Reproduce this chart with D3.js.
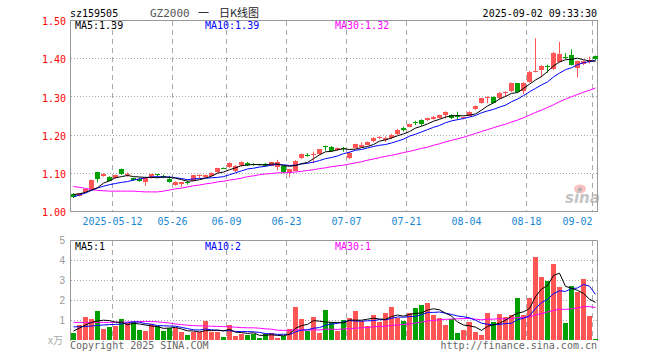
<!DOCTYPE html>
<html>
<head>
<meta charset="utf-8">
<script src="https://cdn.jsdelivr.net/npm/d3@7"></script>
<style>
  body { margin: 0; background: #fff; }
  svg text { font-family: "DejaVu Sans Mono", "Liberation Mono", monospace; font-size: 10px; }
</style>
</head>
<body>
<svg id="chart" width="660" height="360"></svg>
<script>
// trading days shown on the chart
const dates = [
  '2025-04-28','2025-04-29','2025-04-30','2025-05-06','2025-05-07','2025-05-08','2025-05-09',
  '2025-05-12','2025-05-13','2025-05-14','2025-05-15','2025-05-16',
  '2025-05-19','2025-05-20','2025-05-21','2025-05-22','2025-05-23',
  '2025-05-26','2025-05-27','2025-05-28','2025-05-29','2025-05-30',
  '2025-06-03','2025-06-04','2025-06-05','2025-06-06',
  '2025-06-09','2025-06-10','2025-06-11','2025-06-12','2025-06-13',
  '2025-06-16','2025-06-17','2025-06-18','2025-06-19','2025-06-20',
  '2025-06-23','2025-06-24','2025-06-25','2025-06-26','2025-06-27',
  '2025-06-30','2025-07-01','2025-07-02','2025-07-03','2025-07-04',
  '2025-07-07','2025-07-08','2025-07-09','2025-07-10','2025-07-11',
  '2025-07-14','2025-07-15','2025-07-16','2025-07-17','2025-07-18',
  '2025-07-21','2025-07-22','2025-07-23','2025-07-24','2025-07-25',
  '2025-07-28','2025-07-29','2025-07-30','2025-07-31','2025-08-01',
  '2025-08-04','2025-08-05','2025-08-06','2025-08-07','2025-08-08',
  '2025-08-11','2025-08-12','2025-08-13','2025-08-14','2025-08-15',
  '2025-08-18','2025-08-19','2025-08-20','2025-08-21','2025-08-22',
  '2025-08-25','2025-08-26','2025-08-27','2025-08-28','2025-08-29',
  '2025-09-01','2025-09-02'
];
const tickDates = ['2025-05-12','2025-05-26','2025-06-09','2025-06-23','2025-07-07','2025-07-21','2025-08-04','2025-08-18','2025-09-02'];
const tickLabels = ['2025-05-12','05-26','06-09','06-23','07-07','07-21','08-04','08-18','09-02'];
const priceTicks = [1.00, 1.10, 1.20, 1.30, 1.40, 1.50];
const volTicks = [1, 2, 3, 4, 5];

// daily OHLC
const open = [
  1.045,1.040,1.051,1.057,1.101,1.092,1.090,1.086,1.110,1.094,
  1.086,1.085,1.077,1.086,1.096,1.092,1.085,1.068,1.071,1.077,
  1.079,1.092,1.090,1.092,1.101,1.113,1.114,1.104,1.120,1.126,
  1.123,1.123,1.124,1.118,1.116,1.118,1.100,1.106,1.138,1.147,
  1.146,1.149,1.170,1.168,1.160,1.165,1.138,1.166,1.168,1.173,
  1.184,1.191,1.186,1.190,1.201,1.216,1.220,1.233,1.238,1.237,
  1.241,1.244,1.251,1.252,1.250,1.243,1.249,1.266,1.282,1.297,
  1.299,1.295,1.310,1.313,1.334,1.313,1.338,1.365,1.369,1.380,
  1.371,1.391,1.404,1.408,1.374,1.386,1.390,1.406
];
const high = [
  1.047,1.047,1.058,1.082,1.103,1.099,1.091,1.095,1.111,1.101,
  1.087,1.087,1.088,1.097,1.097,1.095,1.092,1.078,1.076,1.079,
  1.095,1.096,1.095,1.101,1.113,1.114,1.127,1.120,1.130,1.128,
  1.125,1.124,1.126,1.128,1.134,1.119,1.110,1.133,1.150,1.151,
  1.155,1.162,1.171,1.170,1.166,1.168,1.155,1.176,1.180,1.182,
  1.193,1.196,1.195,1.202,1.215,1.221,1.228,1.236,1.240,1.244,
  1.249,1.252,1.261,1.253,1.260,1.246,1.261,1.276,1.296,1.300,
  1.300,1.311,1.313,1.336,1.335,1.337,1.367,1.452,1.382,1.383,
  1.416,1.443,1.413,1.423,1.394,1.394,1.404,1.407
];
const low = [
  1.034,1.038,1.049,1.056,1.075,1.090,1.078,1.085,1.094,1.090,
  1.079,1.076,1.066,1.085,1.087,1.086,1.074,1.066,1.063,1.069,
  1.078,1.086,1.087,1.091,1.099,1.110,1.112,1.102,1.116,1.118,
  1.118,1.119,1.117,1.117,1.106,1.099,1.088,1.104,1.136,1.142,
  1.125,1.147,1.158,1.156,1.157,1.155,1.136,1.164,1.166,1.172,
  1.180,1.189,1.181,1.188,1.199,1.208,1.219,1.225,1.223,1.235,
  1.239,1.242,1.242,1.241,1.240,1.240,1.248,1.265,1.281,1.282,
  1.282,1.293,1.300,1.311,1.310,1.306,1.336,1.363,1.350,1.362,
  1.369,1.389,1.397,1.381,1.350,1.382,1.386,1.395
];
const close = [
  1.036,1.046,1.057,1.081,1.084,1.096,1.079,1.094,1.096,1.098,
  1.081,1.078,1.086,1.096,1.094,1.090,1.075,1.077,1.075,1.072,
  1.094,1.094,1.094,1.100,1.112,1.111,1.125,1.118,1.127,1.121,
  1.121,1.120,1.119,1.127,1.127,1.101,1.109,1.132,1.149,1.145,
  1.150,1.161,1.168,1.158,1.164,1.162,1.153,1.175,1.174,1.180,
  1.190,1.194,1.190,1.200,1.212,1.213,1.227,1.231,1.228,1.243,
  1.247,1.251,1.260,1.243,1.247,1.245,1.260,1.275,1.295,1.299,
  1.284,1.310,1.312,1.334,1.312,1.336,1.365,1.367,1.380,1.376,
  1.414,1.411,1.401,1.383,1.393,1.393,1.395,1.398
];

// price moving averages as plotted
const ma5 = [
  1.043,1.045,1.049,1.055,1.061,1.073,1.079,1.087,1.090,1.093,
  1.090,1.089,1.088,1.088,1.087,1.089,1.088,1.086,1.082,1.078,
  1.079,1.082,1.086,1.091,1.099,1.102,1.108,1.113,1.119,1.120,
  1.122,1.121,1.121,1.123,1.123,1.119,1.117,1.119,1.124,1.127,
  1.137,1.147,1.155,1.156,1.160,1.163,1.161,1.162,1.166,1.169,
  1.174,1.183,1.186,1.191,1.197,1.202,1.208,1.217,1.222,1.228,
  1.235,1.240,1.246,1.249,1.250,1.249,1.251,1.254,1.264,1.275,
  1.283,1.293,1.300,1.308,1.310,1.321,1.332,1.343,1.352,1.365,
  1.380,1.390,1.396,1.397,1.400,1.396,1.393,1.392
];
const ma10 = [
  1.037,1.042,1.047,1.054,1.060,1.065,1.069,1.072,1.075,1.077,
  1.081,1.084,1.087,1.089,1.090,1.089,1.089,1.087,1.085,1.082,
  1.084,1.085,1.086,1.087,1.088,1.090,1.095,1.100,1.105,1.110,
  1.112,1.115,1.117,1.120,1.122,1.121,1.119,1.120,1.123,1.125,
  1.128,1.132,1.137,1.140,1.144,1.150,1.154,1.159,1.161,1.165,
  1.169,1.172,1.174,1.178,1.183,1.188,1.196,1.201,1.207,1.213,
  1.219,1.224,1.231,1.236,1.239,1.242,1.246,1.250,1.257,1.262,
  1.266,1.272,1.277,1.286,1.293,1.302,1.312,1.321,1.330,1.338,
  1.351,1.361,1.370,1.375,1.383,1.388,1.391,1.394
];
const ma30 = [
  1.064,1.062,1.059,1.056,1.054,1.053,1.052,1.052,1.052,1.052,
  1.052,1.051,1.050,1.050,1.050,1.052,1.055,1.058,1.060,1.063,
  1.066,1.068,1.071,1.073,1.076,1.078,1.081,1.083,1.086,1.090,
  1.092,1.095,1.097,1.098,1.100,1.100,1.101,1.102,1.104,1.106,
  1.108,1.111,1.113,1.116,1.118,1.120,1.123,1.126,1.129,1.133,
  1.136,1.140,1.143,1.146,1.149,1.153,1.156,1.160,1.164,1.167,
  1.172,1.176,1.181,1.185,1.189,1.193,1.198,1.203,1.208,1.213,
  1.218,1.223,1.227,1.233,1.238,1.244,1.251,1.258,1.264,1.271,
  1.278,1.286,1.293,1.299,1.305,1.311,1.316,1.322
];

// volume (x万) and its moving averages
const volume = [
  0.37,0.75,1.15,1.05,1.45,0.55,0.67,0.72,1.05,0.83,
  0.92,0.50,0.45,0.78,0.70,0.45,0.62,0.62,0.38,0.25,
  0.38,0.38,0.95,0.38,0.42,0.17,0.75,0.22,0.28,0.25,
  0.28,0.12,0.28,0.35,0.12,0.20,0.55,1.67,1.05,0.45,
  1.15,0.37,1.50,0.92,0.45,1.00,1.12,1.45,0.95,0.70,
  1.25,0.90,1.35,1.65,1.12,0.95,1.35,1.60,1.75,1.85,
  1.25,1.12,0.75,1.05,0.35,0.50,0.90,0.40,0.25,1.35,
  0.90,1.30,1.15,1.25,2.10,1.25,2.10,4.15,3.15,2.95,
  3.80,2.65,0.85,2.70,2.40,3.05,1.20,0.05
];
const volMa5 = [
  0.45,0.60,0.75,0.88,0.95,0.99,0.97,0.89,0.89,0.76,
  0.84,0.80,0.75,0.70,0.67,0.58,0.60,0.63,0.55,0.46,
  0.45,0.40,0.47,0.47,0.50,0.46,0.53,0.39,0.37,0.33,
  0.36,0.23,0.24,0.26,0.23,0.21,0.30,0.58,0.72,0.78,
  0.97,0.94,0.90,0.88,0.88,0.85,1.00,0.99,0.99,1.04,
  1.09,1.05,1.03,1.17,1.25,1.19,1.28,1.33,1.35,1.50,
  1.56,1.51,1.34,1.20,0.90,0.75,0.71,0.64,0.48,0.68,
  0.76,0.84,0.99,1.19,1.34,1.41,1.57,2.17,2.55,2.72,
  3.23,3.34,2.68,2.59,2.48,2.33,2.04,1.88
];
const volMa10 = [
  0.66,0.66,0.68,0.70,0.73,0.75,0.77,0.78,0.80,0.86,
  0.91,0.89,0.82,0.79,0.72,0.71,0.70,0.69,0.63,0.57,
  0.51,0.50,0.55,0.51,0.48,0.46,0.47,0.43,0.42,0.42,
  0.41,0.38,0.32,0.31,0.28,0.29,0.27,0.41,0.49,0.51,
  0.59,0.62,0.74,0.80,0.83,0.91,0.97,0.95,0.94,0.96,
  0.97,1.02,1.01,1.08,1.15,1.14,1.17,1.18,1.26,1.38,
  1.38,1.40,1.34,1.28,1.20,1.16,1.11,0.99,0.84,0.79,
  0.76,0.78,0.82,0.84,1.01,1.09,1.21,1.58,1.87,2.03,
  2.32,2.46,2.43,2.57,2.60,2.78,2.69,2.28
];
const volMa30 = [
  0.88,0.88,0.88,0.88,0.88,0.88,0.88,0.89,0.89,0.90,
  0.91,0.92,0.93,0.92,0.91,0.88,0.85,0.80,0.77,0.74,
  0.72,0.71,0.70,0.69,0.68,0.67,0.66,0.64,0.62,0.61,
  0.61,0.59,0.56,0.54,0.49,0.48,0.48,0.51,0.51,0.50,
  0.51,0.50,0.54,0.54,0.53,0.55,0.57,0.59,0.61,0.63,
  0.66,0.68,0.69,0.73,0.75,0.78,0.80,0.85,0.90,0.95,
  0.98,1.01,1.03,1.05,1.06,1.07,1.08,1.04,1.01,1.04,
  1.04,1.07,1.05,1.07,1.12,1.13,1.16,1.25,1.32,1.40,
  1.48,1.54,1.53,1.56,1.60,1.67,1.67,1.62
];

const UP = '#ff5555', DOWN = '#00a000', GRID = '#aaa', BORDER = '#999';

const svg = d3.select('#chart');

const x = d3.scaleBand().domain(dates).range([70.5, 598.5]).paddingInner(1 / 6).paddingOuter(1 / 12);
const y = d3.scaleLinear().domain([1.0, 1.5]).range([211, 20]);
const yv = d3.scaleLinear().domain([0, 5]).range([340, 240]);
const gx = d => x(d) - 0.5;                  // grid line position of a day
const cx = d => x(d) + x.bandwidth() / 2;    // candle centre
const px = v => Math.round(v) + 0.5;

// ---------- header ----------
svg.append('text').attr('x', 70).attr('y', 16.5).attr('fill', '#000').text('sz159505');
svg.append('text').attr('x', 150).attr('y', 16.5).attr('fill', '#555').style('font-size', '11px').text('GZ2000');
svg.append('text').attr('x', 198).attr('y', 17).attr('fill', '#333')
  .style('font-family', '"Noto Sans CJK SC", sans-serif').style('font-size', '11px').text('一');
svg.append('text').attr('x', 219).attr('y', 17).attr('fill', '#222')
  .style('font-family', '"Noto Sans CJK SC", sans-serif').style('font-size', '11px').text('日K线图');
svg.append('text').attr('x', 597).attr('y', 16.5).attr('text-anchor', 'end').attr('fill', '#000').text('2025-09-02 09:33:30');

// ---------- grids ----------
const grid = svg.append('g');
grid.selectAll('.hp').data(priceTicks.slice(1, -1)).enter().append('line')
  .attr('x1', 71).attr('x2', 597).attr('y1', d => px(y(d))).attr('y2', d => px(y(d)))
  .attr('stroke', GRID).attr('stroke-dasharray', '1,2');
grid.selectAll('.hv').data(volTicks.slice(0, -1)).enter().append('line')
  .attr('x1', 71).attr('x2', 597).attr('y1', d => px(yv(d))).attr('y2', d => px(yv(d)))
  .attr('stroke', GRID).attr('stroke-dasharray', '1,2');
grid.selectAll('.vp').data(tickDates).enter().append('line')
  .attr('x1', gx).attr('x2', gx).attr('y1', 21).attr('y2', 211)
  .attr('stroke', GRID).attr('stroke-dasharray', '5,4');
grid.selectAll('.vv').data(tickDates).enter().append('line')
  .attr('x1', gx).attr('x2', gx).attr('y1', 241).attr('y2', 340)
  .attr('stroke', GRID).attr('stroke-dasharray', '5,4');

// watermark
const wm = svg.append('g').attr('opacity', 0.8);
wm.append('ellipse').attr('cx', 580).attr('cy', 189).attr('rx', 6).attr('ry', 4.5).attr('fill', '#f6b3b3');
wm.append('circle').attr('cx', 580).attr('cy', 189.5).attr('r', 2).attr('fill', '#999');
wm.append('text').attr('x', 565).attr('y', 203).attr('fill', '#b5b5b5')
  .style('font-family', '"DejaVu Sans", sans-serif').style('font-size', '15px')
  .style('font-weight', 'bold').style('font-style', 'italic').text('sina');

// ---------- borders ----------
svg.append('rect').attr('x', 70.5).attr('y', 20.5).attr('width', 527).attr('height', 191)
  .attr('fill', 'none').attr('stroke', BORDER);
svg.append('path').attr('d', 'M70.5,341V240.5H597.5V341').attr('fill', 'none').attr('stroke', BORDER);

// ---------- axes ----------
const yAxis = svg.append('g').attr('transform', 'translate(70,1.5)')
  .call(d3.axisLeft(y).tickValues(priceTicks).tickFormat(d3.format('.2f')).tickSize(0).tickPadding(4));
yAxis.select('.domain').remove();
yAxis.selectAll('text').attr('fill', '#f00')
  .style('font-family', '"DejaVu Sans Mono", monospace').style('font-size', '10px');

const vAxis = svg.append('g').attr('transform', 'translate(70,0)')
  .call(d3.axisLeft(yv).tickValues(volTicks).tickFormat(d3.format('d')).tickSize(0).tickPadding(5));
vAxis.select('.domain').remove();
vAxis.selectAll('text').attr('fill', '#999')
  .style('font-family', '"Liberation Sans", sans-serif').style('font-size', '10px');
svg.append('text').attr('x', 63).attr('y', 344).attr('text-anchor', 'end').attr('fill', '#aaa')
  .style('font-family', '"Noto Sans CJK SC", sans-serif').style('font-size', '10px').text('x万');

svg.selectAll('.xl').data(tickDates).enter().append('text')
  .attr('x', (d, i) => i === tickDates.length - 1 ? gx(d) : gx(d))
  .attr('y', 225)
  .attr('text-anchor', (d, i) => i === tickDates.length - 1 ? 'end' : 'middle')
  .attr('fill', '#1a87d5')
  .text((d, i) => tickLabels[i]);

// ---------- candles ----------
const candles = svg.append('g');
dates.forEach((d, i) => {
  const up = close[i] >= open[i];
  const col = up ? UP : DOWN;
  candles.append('line')
    .attr('x1', cx(d)).attr('x2', cx(d))
    .attr('y1', y(high[i])).attr('y2', y(low[i]))
    .attr('stroke', col);
  const top = y(Math.max(open[i], close[i]));
  const h = Math.max(1, y(Math.min(open[i], close[i])) - top);
  candles.append('rect')
    .attr('x', x(d)).attr('y', top).attr('width', x.bandwidth()).attr('height', h)
    .attr('fill', col).attr('shape-rendering', 'crispEdges');
});

// ---------- volume bars ----------
svg.append('g').selectAll('rect').data(dates).enter().append('rect')
  .attr('x', d => x(d))
  .attr('y', (d, i) => yv(volume[i]))
  .attr('width', x.bandwidth())
  .attr('height', (d, i) => 340 - yv(volume[i]))
  .attr('fill', (d, i) => close[i] >= open[i] ? UP : DOWN)
  .attr('shape-rendering', 'crispEdges');

// ---------- moving average lines ----------
function maLine(values, scale, color) {
  const line = d3.line().x((v, i) => cx(dates[i])).y(v => scale(v));
  svg.append('path').datum(values).attr('d', line)
    .attr('fill', 'none').attr('stroke', color).attr('stroke-width', 1);
}
maLine(ma30, y, '#ff00ff');
maLine(ma10, y, '#0000ff');
maLine(ma5, y, '#000');
maLine(volMa30, yv, '#ff00ff');
maLine(volMa10, yv, '#0000ff');
maLine(volMa5, yv, '#000');

// ---------- legends ----------
const legend = [
  { text: 'MA5:1.39', color: '#000', x: 75, y: 29 },
  { text: 'MA10:1.39', color: '#0000ff', x: 205, y: 29 },
  { text: 'MA30:1.32', color: '#ff00ff', x: 335, y: 29 },
  { text: 'MA5:1', color: '#000', x: 75, y: 250 },
  { text: 'MA10:2', color: '#0000ff', x: 205, y: 250 },
  { text: 'MA30:1', color: '#ff00ff', x: 335, y: 250 }
];
svg.selectAll('.lg').data(legend).enter().append('text')
  .attr('x', d => d.x).attr('y', d => d.y).attr('fill', d => d.color).text(d => d.text);

// ---------- footer ----------
svg.append('text').attr('x', 70).attr('y', 348.5).attr('fill', '#666').text('Copyright 2025 SINA.COM');
svg.append('text').attr('x', 597).attr('y', 348.5).attr('text-anchor', 'end').attr('fill', '#666').text('http://finance.sina.com.cn');
</script>
</body>
</html>
